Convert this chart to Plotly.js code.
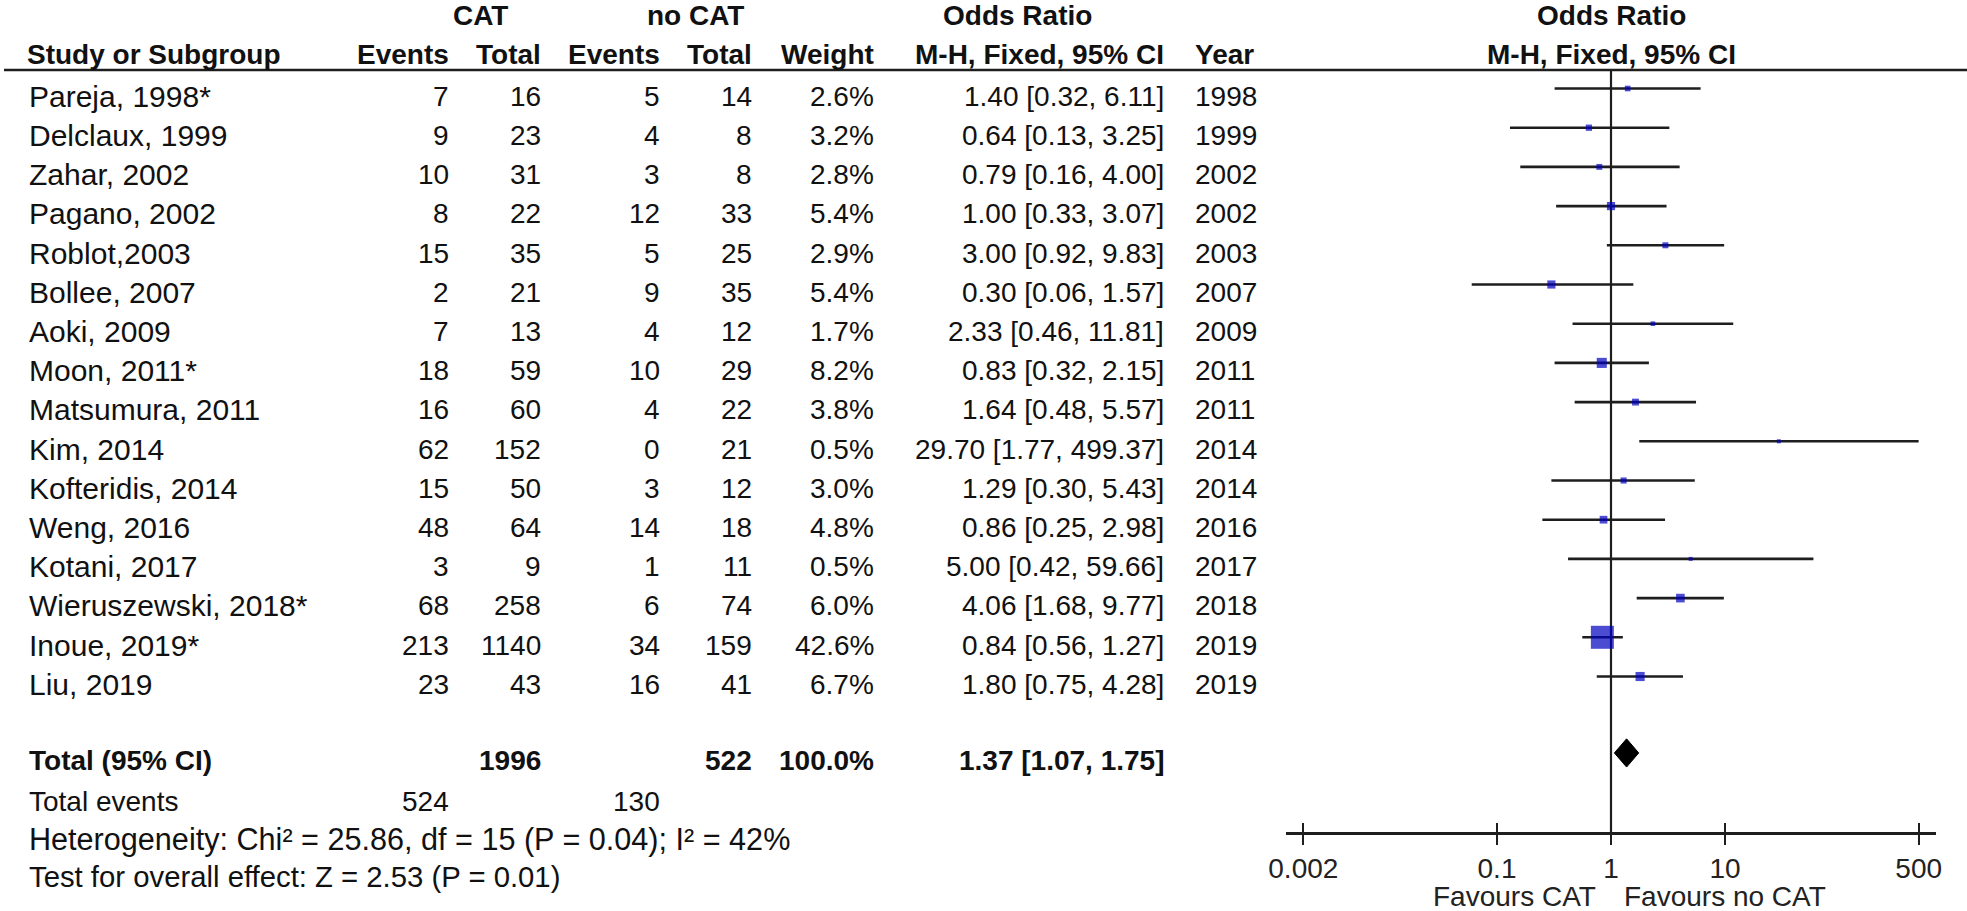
<!DOCTYPE html>
<html>
<head>
<meta charset="utf-8">
<script src="https://cdn.plot.ly/plotly-3.0.1.min.js"></script>
<style>
  html, body { margin: 0; padding: 0; background: #ffffff; }
  #chart { width: 1967px; height: 911px; }
</style>
</head>
<body>
<div id="chart"></div>
<script>
// ---------------- DATA ----------------
const studies = ["Pareja, 1998*", "Delclaux, 1999", "Zahar, 2002", "Pagano, 2002", "Roblot,2003",
  "Bollee, 2007", "Aoki, 2009", "Moon, 2011*", "Matsumura, 2011", "Kim, 2014", "Kofteridis, 2014",
  "Weng, 2016", "Kotani, 2017", "Wieruszewski, 2018*", "Inoue, 2019*", "Liu, 2019"];
const catEvents = [7, 9, 10, 8, 15, 2, 7, 18, 16, 62, 15, 48, 3, 68, 213, 23];
const catTotal = [16, 23, 31, 22, 35, 21, 13, 59, 60, 152, 50, 64, 9, 258, 1140, 43];
const noCatEvents = [5, 4, 3, 12, 5, 9, 4, 10, 4, 0, 3, 14, 1, 6, 34, 16];
const noCatTotal = [14, 8, 8, 33, 25, 35, 12, 29, 22, 21, 12, 18, 11, 74, 159, 41];
const weights = [2.6, 3.2, 2.8, 5.4, 2.9, 5.4, 1.7, 8.2, 3.8, 0.5, 3.0, 4.8, 0.5, 6.0, 42.6, 6.7];
const orEst = [1.40, 0.64, 0.79, 1.00, 3.00, 0.30, 2.33, 0.83, 1.64, 29.70, 1.29, 0.86, 5.00, 4.06, 0.84, 1.80];
const orLow = [0.32, 0.13, 0.16, 0.33, 0.92, 0.06, 0.46, 0.32, 0.48, 1.77, 0.30, 0.25, 0.42, 1.68, 0.56, 0.75];
const orHigh = [6.11, 3.25, 4.00, 3.07, 9.83, 1.57, 11.81, 2.15, 5.57, 499.37, 5.43, 2.98, 59.66, 9.77, 1.27, 4.28];
const years = [1998, 1999, 2002, 2002, 2003, 2007, 2009, 2011, 2011, 2014, 2014, 2016, 2017, 2018, 2019, 2019];

const totalCat = 1996;
const totalNoCat = 522;
const totalWeight = 100.0;
const totalOR = [1.37, 1.07, 1.75];
const totalEventsCat = 524;
const totalEventsNoCat = 130;
const heterogeneityText = "Heterogeneity: Chi\u00b2 = 25.86, df = 15 (P = 0.04); I\u00b2 = 42%";
const overallText = "Test for overall effect: Z = 2.53 (P = 0.01)";

const tickValues = [0.002, 0.1, 1, 10, 500];
const tickLabels = ["0.002", "0.1", "1", "10", "500"];
const favoursLeft = "Favours CAT";
const favoursRight = "Favours no CAT";

// ---------------- LAYOUT CONSTANTS ----------------
const W = 1967, H = 911;
const FONT = "Liberation Sans, Arial, sans-serif";
const FS = 28;        // numbers / headers
const FS_NAME = 30;   // wider label text (study names)
const TXT = "#111111";
const LINE = "#1e1e1e";
const BLUE = "#0000c0";

const rowPx = 39.2;       // pixels per row
const firstMarkPx = 88.5; // pixel y of first row's marks
const textOffset = 0.2;   // text sits slightly lower than marks (rows)
const axisPx = 833;       // pixel y of the x axis line
const headLinePx = 70;    // pixel y of header underline

const n = studies.length;
const totalRow = n + 0.95;

// log axis: value 1 at 1611 px, 114 px per decade
const xCenterPx = 1611, pxPerDec = 114;
const xRange = [-2.85, 2.85];
const domL = (xCenterPx + xRange[0] * pxPerDec) / W;
const domR = (xCenterPx + xRange[1] * pxPerDec) / W;

const yTop = -firstMarkPx / rowPx;
const yBot = (H - firstMarkPx) / rowPx;

// columns (pixel x)
const col = {
  name: 28, catEv: 450, catTot: 542, noEv: 661, noTot: 753, weight: 875, ci: 1165, year: 1194,
  head: 26
};

const fmt2 = v => v.toFixed(2);
const ciText = (e, l, h) => fmt2(e) + " [" + fmt2(l) + ", " + fmt2(h) + "]";

const annotations = [];
function ann(text, xpx, row, xanchor, bold, size, color) {
  annotations.push({
    text: bold ? "<b>" + text + "</b>" : text,
    x: xpx / W, xref: "paper",
    y: row, yref: "y",
    xanchor: xanchor, yanchor: "middle",
    showarrow: false, borderpad: 0,
    font: { family: FONT, size: size || FS, color: color || TXT }
  });
}

// header rows
const h1 = -1.85, h2 = -0.88;
ann("CAT", 480, h1, "center", true);
ann("no CAT", 695, h1, "center", true);
ann("Odds Ratio", 1018, h1, "center", true);
ann("Odds Ratio", xCenterPx, h1, "center", true);
ann("Study or Subgroup", col.head, h2, "left", true);
ann("Events", col.catEv, h2, "right", true);
ann("Total", col.catTot, h2, "right", true);
ann("Events", col.noEv, h2, "right", true);
ann("Total", col.noTot, h2, "right", true);
ann("Weight", col.weight, h2, "right", true);
ann("M-H, Fixed, 95% CI", col.ci, h2, "right", true);
ann("Year", col.year, h2, "left", true);
ann("M-H, Fixed, 95% CI", xCenterPx, h2, "center", true);

// study rows
for (let i = 0; i < n; i++) {
  const r = i + textOffset;
  ann(studies[i], col.name, r, "left", false, FS_NAME);
  ann(String(catEvents[i]), col.catEv, r, "right");
  ann(String(catTotal[i]), col.catTot, r, "right");
  ann(String(noCatEvents[i]), col.noEv, r, "right");
  ann(String(noCatTotal[i]), col.noTot, r, "right");
  ann(weights[i].toFixed(1) + "%", col.weight, r, "right");
  ann(ciText(orEst[i], orLow[i], orHigh[i]), col.ci, r, "right");
  ann(String(years[i]), col.year, r, "left");
}

// totals
const tr = totalRow + textOffset;
ann("Total (95% CI)", col.name, tr, "left", true);
ann(String(totalCat), col.catTot, tr, "right", true);
ann(String(totalNoCat), col.noTot, tr, "right", true);
ann(totalWeight.toFixed(1) + "%", col.weight, tr, "right", true);
ann(ciText(totalOR[0], totalOR[1], totalOR[2]), col.ci, tr, "right", true);
ann("Total events", col.name, totalRow + 1.25, "left");
ann(String(totalEventsCat), col.catEv, totalRow + 1.25, "right");
ann(String(totalEventsNoCat), col.noEv, totalRow + 1.25, "right");
ann(heterogeneityText, col.name, totalRow + 2.22, "left", false, 30.6);
ann(overallText, col.name, totalRow + 3.16, "left", false, 29.3);

// favours labels
const favRow = (896 - firstMarkPx) / rowPx;
ann(favoursLeft, xCenterPx - 14, favRow, "right", false, FS, "#222");
ann(favoursRight, xCenterPx + 12, favRow, "left", false, FS, "#222");

// ---------------- TRACES ----------------
const ciX = [], ciY = [];
for (let i = 0; i < n; i++) {
  ciX.push(orLow[i], orHigh[i], null);
  ciY.push(i, i, null);
}
const rows = studies.map((_, i) => i);

const maxW = Math.max(...weights);
const sizes = weights.map(w => Math.max(4, 23 * Math.sqrt(w / maxW)));

const traces = [
  {
    x: ciX, y: ciY, mode: "lines", type: "scatter",
    line: { color: LINE, width: 2.6 }, hoverinfo: "skip", showlegend: false
  },
  {
    x: orEst, y: rows, mode: "markers", type: "scatter",
    marker: { symbol: "square", size: sizes, color: BLUE, line: { width: 0 } },
    hoverinfo: "skip", showlegend: false
  },
  {
    x: [totalOR[1], totalOR[0], totalOR[2], totalOR[0], totalOR[1]],
    y: [totalRow, totalRow - 0.36, totalRow, totalRow + 0.36, totalRow],
    mode: "lines", type: "scatter", fill: "toself", fillcolor: "#000000",
    line: { color: "#000000", width: 1 }, hoverinfo: "skip", showlegend: false
  },
  { x: [1], y: [0], xaxis: "x2", mode: "markers", marker: { opacity: 0 }, hoverinfo: "skip", showlegend: false }
];

const axisPos = (H - axisPx) / H;

const layout = {
  width: W, height: H,
  margin: { l: 0, r: 0, t: 0, b: 0, pad: 0 },
  paper_bgcolor: "#ffffff", plot_bgcolor: "rgba(0,0,0,0)",
  showlegend: false,
  xaxis: {
    type: "log", range: xRange, autorange: false, domain: [domL, domR],
    anchor: "free", position: axisPos,
    showgrid: false, zeroline: false,
    showline: true, linecolor: LINE, linewidth: 2.6,
    ticks: "outside", ticklen: 10, tickwidth: 2.2, tickcolor: LINE,
    tickmode: "array", tickvals: tickValues, ticktext: tickLabels,
    tickfont: { family: FONT, size: FS, color: "#222" },
    fixedrange: true
  },
  xaxis2: {
    type: "log", range: xRange, autorange: false, domain: [domL, domR],
    overlaying: "x", anchor: "free", position: axisPos, side: "bottom",
    showgrid: false, zeroline: false, showline: false,
    ticks: "inside", ticklen: 10, tickwidth: 2.2, tickcolor: LINE,
    tickmode: "array", tickvals: tickValues, showticklabels: false,
    fixedrange: true
  },
  yaxis: {
    range: [yBot, yTop], autorange: false, domain: [0, 1],
    visible: false, showgrid: false, zeroline: false, fixedrange: true
  },
  shapes: [
    { type: "line", xref: "paper", yref: "paper", x0: 4 / W, x1: 1,
      y0: (H - headLinePx) / H, y1: (H - headLinePx) / H, line: { color: LINE, width: 2.6 } },
    { type: "line", xref: "x", yref: "paper", x0: 1, x1: 1,
      y0: axisPos, y1: (H - headLinePx) / H, line: { color: LINE, width: 2.2 }, layer: "below" }
  ],
  annotations: annotations
};

Plotly.newPlot("chart", traces, layout, { displayModeBar: false, staticPlot: true });
</script>
</body>
</html>
